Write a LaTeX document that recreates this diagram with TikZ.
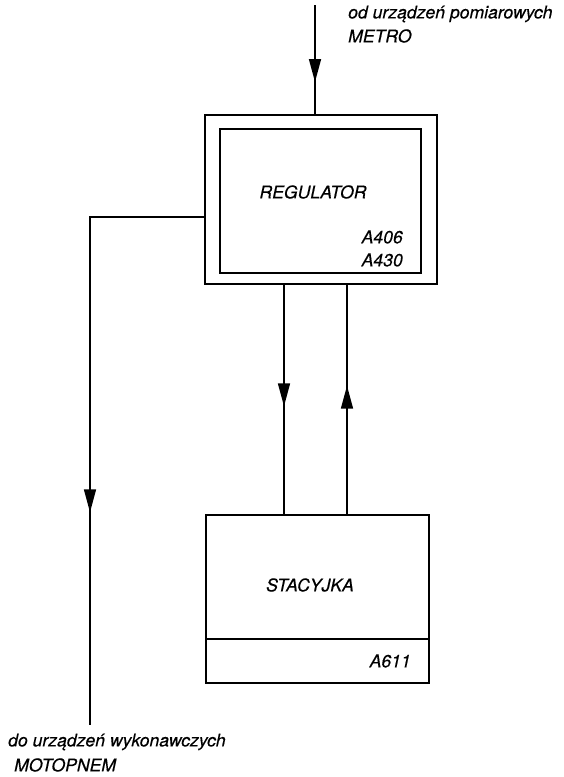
\documentclass[tikz,border=0pt]{standalone}
\usepackage{fontspec}
\setmainfont{TeX Gyre Heros}[ItalicFeatures={FakeBold=0.4}]
\usetikzlibrary{arrows.meta,decorations.markings,calc}
\begin{document}
\begin{tikzpicture}[x=1pt,y=-1pt,
  box/.style={draw,line width=2.6pt,inner sep=0pt,minimum width=#1},
  conn/.style={line width=1.6pt},
  txt/.style={font=\fontsize{17.6}{20}\selectfont\itshape,inner sep=0pt},
  arrowat/.style={postaction={decorate},decoration={markings,mark=at position #1 with {\arrow{Triangle[length=23pt,width=12pt]}}}}
]
\useasboundingbox (0,0) rectangle (564,777);
% boxes
\node[box=232pt,minimum height=169pt] (regout) at (321,199.5) {};
\node[box=201pt,minimum height=144pt] (regin) at (320.5,201) {};
\node[box=223pt,minimum height=168pt] (stac) at (317.5,599) {};
\coordinate (divl) at (206,639);
\coordinate (divr) at (429,639);
\draw[line width=2.4pt] (divl) -- (divr);
% texts
\node[txt] (reg) at (313,192) {REGULATOR};
\node[txt,anchor=east] (a406) at (403,237) {A406};
\node[txt,anchor=east] (a430) at (403,260) {A430};
\node[txt] (stx) at (310,585) {STACYJKA};
\node[txt,anchor=east] (a611) at (411,661) {A611};
\node[txt,anchor=west] (t1) at (348,14) {od urządzeń pomiarowych};
\node[txt,anchor=west] (t2) at (348,36) {METRO};
\node[txt,anchor=west] (b1) at (8,742) {do urządzeń wykonawczych};
\node[txt,anchor=west] (b2) at (14,765) {MOTOPNEM};
% connectors
\coordinate (in) at (315,5);
\draw[conn,arrowat=77pt] (in) -- (regout.north -| in);
\coordinate (lc) at (90,217);
\coordinate (out) at (90,725);
\draw[conn,arrowat=409pt] (regout.west |- lc) -- (lc) -- (out);
\coordinate (d1) at (284,0);
\coordinate (d2) at (347,0);
\draw[conn,arrowat=121pt] (regout.south -| d1) -- (stac.north -| d1);
\draw[conn,arrowat=128pt] (stac.north -| d2) -- (regout.south -| d2);
\end{tikzpicture}
\end{document}
